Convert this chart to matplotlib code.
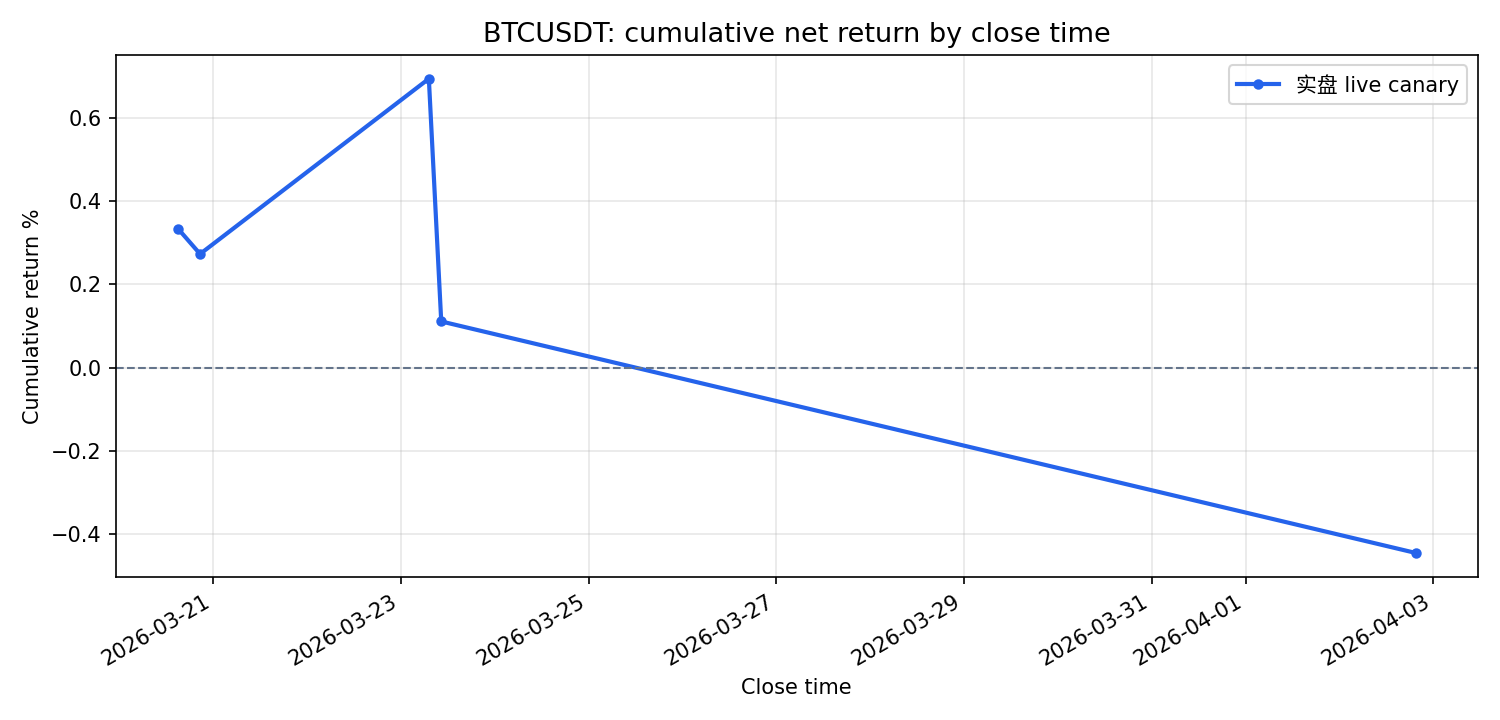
import matplotlib
matplotlib.use("Agg")
import matplotlib.pyplot as plt
import pandas as pd

close_times = pd.to_datetime([
    "2026-03-20 15:00",
    "2026-03-20 20:40",
    "2026-03-23 07:10",
    "2026-03-23 10:20",
    "2026-04-02 19:30",
])
cum_return = [0.334, 0.273, 0.694, 0.111, -0.445]
label = "实盘 live canary"

fig, ax = plt.subplots(figsize=(10, 4.8), dpi=150)
ax.plot(close_times, cum_return, marker="o", markersize=4, linewidth=2,
        color="#2563eb", label=label)
ax.axhline(0, color="#64748b", linestyle="--", linewidth=1)
ax.set_title("BTCUSDT: cumulative net return by close time", fontsize=13)
ax.set_xlabel("Close time")
ax.set_ylabel("Cumulative return %")
ax.grid(True, alpha=0.3)
ax.legend(prop={"family": ["DejaVu Sans", "Noto Sans CJK SC"]})
fig.autofmt_xdate()
fig.tight_layout()
fig.savefig("out.png")
plt.close(fig)
